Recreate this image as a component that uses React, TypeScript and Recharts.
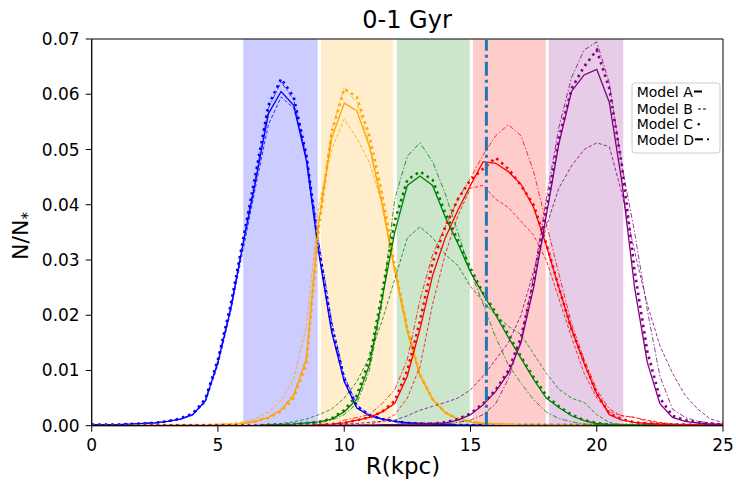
import React from 'react';
// npm
import { LineChart, Line, XAxis, YAxis, ReferenceArea, ReferenceLine } from 'recharts';

// radius grid (kpc)
const R = [
  0, 0.5, 1, 1.5, 2, 2.5, 3, 3.5, 4, 4.5, 5, 5.5, 6, 6.5, 7, 7.5, 8, 8.5, 9, 9.5, 10, 10.5, 11, 11.5, 12,
  12.5, 13, 13.5, 14, 14.5, 15, 15.5, 16, 16.5, 17, 17.5, 18, 18.5, 19, 19.5, 20, 20.5, 21, 21.5, 22, 22.5,
  23, 23.5, 24, 24.5, 25,
];

const xTicks = [0, 5, 10, 15, 20, 25];
const yTicks = [0, 0.01, 0.02, 0.03, 0.04, 0.05, 0.06, 0.07];

// birth radius bins shaded behind the curves
const bandEdges = [
  [6, 8.95],
  [9.08, 11.95],
  [12.08, 14.97],
  [15.1, 17.98],
  [18.1, 21.05],
];
const bandColors = ['#ccccff', '#ffedcc', '#cce6cc', '#ffcccc', '#e6cce6'];
const solarR = 15.63;

const blueA = [
  0.0002, 0.0002, 0.0002, 0.0003, 0.0004, 0.0005, 0.0008, 0.0012, 0.002, 0.0045, 0.0115, 0.021, 0.033, 0.0445,
  0.0565, 0.0605, 0.058, 0.048, 0.031, 0.017, 0.008, 0.0032, 0.0018, 0.0012, 0.0008, 0.0005, 0.0004, 0.0003,
  0.0002, 0.0001, 0.0001, 0.0001, 0.0001, 0.0001, 0.0001, 0.0001, 0.0001, 0.0001, 0.0001, 0.0001, 0.0001,
  0.0001, 0.0001, 0.0001, 0.0001, 0.0001, 0.0001, 0.0001, 0.0001, 0.0001, 0.0001,
];
const blueB = [
  0.0002, 0.0002, 0.0002, 0.0003, 0.0004, 0.0005, 0.0008, 0.0011, 0.0019, 0.0042, 0.011, 0.0205, 0.032, 0.0435,
  0.0545, 0.0595, 0.0575, 0.049, 0.033, 0.019, 0.009, 0.0038, 0.002, 0.0013, 0.0009, 0.0006, 0.0004, 0.0003,
  0.0002, 0.0001, 0.0001, 0.0001, 0.0001, 0.0001, 0.0001, 0.0001, 0.0001, 0.0001, 0.0001, 0.0001, 0.0001,
  0.0001, 0.0001, 0.0001, 0.0001, 0.0001, 0.0001, 0.0001, 0.0001, 0.0001, 0.0001,
];
const blueC = [
  0.0002, 0.0002, 0.0002, 0.0003, 0.0004, 0.0005, 0.0008, 0.0013, 0.0022, 0.0048, 0.012, 0.0218, 0.0338, 0.0458,
  0.058, 0.0628, 0.0595, 0.049, 0.032, 0.018, 0.0085, 0.0035, 0.0019, 0.0012, 0.0008, 0.0005, 0.0004, 0.0003,
  0.0002, 0.0001, 0.0001, 0.0001, 0.0001, 0.0001, 0.0001, 0.0001, 0.0001, 0.0001, 0.0001, 0.0001, 0.0001,
  0.0001, 0.0001, 0.0001, 0.0001, 0.0001, 0.0001, 0.0001, 0.0001, 0.0001, 0.0001,
];
const blueD = [
  0.0002, 0.0002, 0.0002, 0.0003, 0.0004, 0.0005, 0.0008, 0.0012, 0.0021, 0.0046, 0.0118, 0.0214, 0.0334, 0.0452,
  0.0575, 0.0622, 0.059, 0.0485, 0.0315, 0.0175, 0.0082, 0.0033, 0.0018, 0.0012, 0.0008, 0.0005, 0.0004, 0.0003,
  0.0002, 0.0001, 0.0001, 0.0001, 0.0001, 0.0001, 0.0001, 0.0001, 0.0001, 0.0001, 0.0001, 0.0001, 0.0001,
  0.0001, 0.0001, 0.0001, 0.0001, 0.0001, 0.0001, 0.0001, 0.0001, 0.0001, 0.0001,
];

const orangeA = [
  0, 0, 0, 0, 0.0001, 0.0001, 0.0001, 0.0001, 0.0001, 0.0001, 0.0002, 0.0002, 0.0004, 0.0008, 0.0015, 0.0028,
  0.0055, 0.012, 0.037, 0.052, 0.0584, 0.057, 0.0505, 0.04, 0.028, 0.017, 0.009, 0.0047, 0.0023, 0.0012, 0.0007,
  0.0004, 0.0003, 0.0002, 0.0001, 0.0001, 0.0001, 0.0001, 0.0001, 0.0001, 0.0001, 0.0001, 0.0001, 0.0001,
  0.0001, 0.0001, 0.0001, 0.0001, 0.0001, 0.0001, 0.0001,
];
const orangeB = [
  0, 0, 0, 0, 0.0001, 0.0001, 0.0001, 0.0002, 0.0002, 0.0002, 0.0003, 0.0004, 0.0007, 0.0013, 0.0025, 0.0045,
  0.0085, 0.018, 0.04, 0.05, 0.0555, 0.052, 0.0476, 0.04, 0.029, 0.018, 0.0095, 0.005, 0.0025, 0.0013, 0.0008,
  0.0005, 0.0003, 0.0002, 0.0001, 0.0001, 0.0001, 0.0001, 0.0001, 0.0001, 0.0001, 0.0001, 0.0001, 0.0001,
  0.0001, 0.0001, 0.0001, 0.0001, 0.0001, 0.0001, 0.0001,
];
const orangeC = [
  0, 0, 0, 0, 0.0001, 0.0001, 0.0001, 0.0001, 0.0001, 0.0001, 0.0002, 0.0002, 0.0004, 0.0008, 0.0014, 0.0026,
  0.005, 0.011, 0.036, 0.053, 0.061, 0.0595, 0.0524, 0.042, 0.029, 0.0175, 0.0092, 0.0048, 0.0024, 0.0012,
  0.0007, 0.0004, 0.0003, 0.0002, 0.0001, 0.0001, 0.0001, 0.0001, 0.0001, 0.0001, 0.0001, 0.0001, 0.0001,
  0.0001, 0.0001, 0.0001, 0.0001, 0.0001, 0.0001, 0.0001, 0.0001,
];
const orangeD = [
  0, 0, 0, 0, 0.0001, 0.0001, 0.0001, 0.0001, 0.0001, 0.0001, 0.0002, 0.0002, 0.0004, 0.0009, 0.0016, 0.003,
  0.0058, 0.0125, 0.038, 0.0535, 0.0612, 0.0585, 0.051, 0.041, 0.0285, 0.0172, 0.0091, 0.0048, 0.0023, 0.0012,
  0.0007, 0.0004, 0.0003, 0.0002, 0.0001, 0.0001, 0.0001, 0.0001, 0.0001, 0.0001, 0.0001, 0.0001, 0.0001,
  0.0001, 0.0001, 0.0001, 0.0001, 0.0001, 0.0001, 0.0001, 0.0001,
];

const greenA = [
  0, 0, 0, 0, 0, 0, 0, 0, 0, 0, 0, 0, 0, 0, 0.0002, 0.0002, 0.0003, 0.0005, 0.0007, 0.0012, 0.0025, 0.0048,
  0.011, 0.023, 0.035, 0.0435, 0.0452, 0.0435, 0.0378, 0.033, 0.0278, 0.0238, 0.02, 0.016, 0.0122, 0.0084,
  0.005, 0.0033, 0.0018, 0.0009, 0.0004, 0.0002, 0.0001, 0.0001, 0.0001, 0.0001, 0.0001, 0.0001, 0.0001,
  0.0001, 0.0001,
];
const greenB = [
  0, 0, 0, 0, 0, 0, 0, 0, 0, 0, 0, 0, 0, 0, 0.0002, 0.0004, 0.0007, 0.0012, 0.002, 0.003, 0.005, 0.008, 0.0125,
  0.019, 0.0265, 0.034, 0.036, 0.034, 0.031, 0.029, 0.0252, 0.0225, 0.02, 0.018, 0.0165, 0.013, 0.0095, 0.0066,
  0.005, 0.0042, 0.002, 0.0006, 0.0001, 0.0001, 0.0001, 0.0001, 0.0001, 0.0001, 0.0001, 0.0001, 0.0001,
];
const greenC = [
  0, 0, 0, 0, 0, 0, 0, 0, 0, 0, 0, 0, 0, 0, 0.0002, 0.0002, 0.0003, 0.0005, 0.0007, 0.0013, 0.0028, 0.0055,
  0.012, 0.024, 0.037, 0.0445, 0.046, 0.0445, 0.0385, 0.0335, 0.0285, 0.024, 0.0205, 0.0165, 0.0125, 0.0088,
  0.0055, 0.0035, 0.002, 0.001, 0.0005, 0.0002, 0.0001, 0.0001, 0.0001, 0.0001, 0.0001, 0.0001, 0.0001, 0.0001,
  0.0001,
];
const greenD = [
  0, 0, 0, 0, 0, 0, 0, 0, 0, 0, 0, 0, 0, 0, 0.0001, 0.0001, 0.0002, 0.0003, 0.0005, 0.001, 0.002, 0.004, 0.01,
  0.022, 0.041, 0.0488, 0.0512, 0.0478, 0.042, 0.035, 0.028, 0.022, 0.016, 0.011, 0.0077, 0.0047, 0.0025,
  0.0013, 0.0007, 0.0003, 0.0002, 0.0001, 0.0001, 0.0001, 0.0001, 0.0001, 0.0001, 0.0001, 0.0001, 0.0001,
  0.0001,
];

const redA = [
  0, 0, 0, 0, 0, 0, 0, 0, 0, 0, 0, 0, 0, 0, 0, 0, 0, 0, 0.0002, 0.0003, 0.0005, 0.001, 0.0015, 0.0025, 0.004,
  0.009, 0.0175, 0.0272, 0.034, 0.039, 0.0435, 0.0478, 0.0475, 0.046, 0.0437, 0.0395, 0.0327, 0.025, 0.0175,
  0.0113, 0.0058, 0.002, 0.001, 0.0006, 0.0004, 0.0003, 0.0002, 0.0002, 0.0001, 0.0001, 0.0001,
];
const redB = [
  0, 0, 0, 0, 0, 0, 0, 0, 0, 0, 0, 0, 0, 0, 0, 0, 0, 0, 0, 0, 0, 0, 0.0003, 0.0008, 0.002, 0.005, 0.0107,
  0.022, 0.031, 0.038, 0.043, 0.0435, 0.041, 0.0395, 0.037, 0.0345, 0.03, 0.023, 0.016, 0.0095, 0.005, 0.0025,
  0.0018, 0.0015, 0.001, 0.0006, 0.0003, 0.0002, 0.0001, 0.0001, 0.0001,
];
const redC = [
  0, 0, 0, 0, 0, 0, 0, 0, 0, 0, 0, 0, 0, 0, 0, 0, 0, 0, 0.0002, 0.0003, 0.0005, 0.001, 0.0015, 0.0025, 0.0045,
  0.01, 0.019, 0.0295, 0.036, 0.041, 0.0445, 0.0465, 0.0485, 0.0465, 0.0435, 0.04, 0.033, 0.025, 0.0175,
  0.0115, 0.0058, 0.0022, 0.0012, 0.0006, 0.0004, 0.0003, 0.0002, 0.0002, 0.0001, 0.0001, 0.0001,
];
const redD = [
  0, 0, 0, 0, 0, 0, 0, 0, 0, 0, 0, 0, 0, 0, 0, 0, 0, 0, 0, 0, 0.001, 0.0015, 0.002, 0.004, 0.0065, 0.012,
  0.0228, 0.031, 0.036, 0.041, 0.0448, 0.049, 0.0525, 0.0545, 0.0525, 0.046, 0.0367, 0.0275, 0.0185, 0.012,
  0.0065, 0.003, 0.0018, 0.0015, 0.0008, 0.0005, 0.0003, 0.0002, 0.0002, 0.0001, 0.0001,
];

const purpleA = [
  0, 0, 0, 0, 0, 0, 0, 0, 0, 0, 0, 0, 0, 0, 0, 0, 0, 0, 0, 0, 0.0001, 0.0001, 0.0001, 0.0002, 0.0002, 0.0003,
  0.0003, 0.0004, 0.0005, 0.001, 0.002, 0.0038, 0.0062, 0.0095, 0.015, 0.025, 0.038, 0.051, 0.0605, 0.0635,
  0.0645, 0.0585, 0.044, 0.025, 0.0115, 0.004, 0.0015, 0.0008, 0.0005, 0.0003, 0.0002,
];
const purpleB = [
  0, 0, 0, 0, 0, 0, 0, 0, 0, 0, 0, 0, 0, 0, 0, 0, 0, 0, 0, 0, 0.0003, 0.0004, 0.0006, 0.0008, 0.001, 0.0018,
  0.0028, 0.0035, 0.0042, 0.005, 0.0065, 0.009, 0.012, 0.015, 0.02, 0.028, 0.036, 0.043, 0.047, 0.05, 0.0512,
  0.0505, 0.042, 0.0315, 0.022, 0.0145, 0.0095, 0.0055, 0.003, 0.0012, 0.0006,
];
const purpleC = [
  0, 0, 0, 0, 0, 0, 0, 0, 0, 0, 0, 0, 0, 0, 0, 0, 0, 0, 0, 0, 0, 0, 0, 0, 0.0001, 0.0002, 0.0003, 0.0004,
  0.0006, 0.0012, 0.0022, 0.004, 0.0065, 0.01, 0.016, 0.026, 0.039, 0.052, 0.061, 0.065, 0.068, 0.061, 0.047,
  0.028, 0.0135, 0.005, 0.0018, 0.001, 0.0006, 0.0004, 0.0002,
];
const purpleD = [
  0, 0, 0, 0, 0, 0, 0, 0, 0, 0, 0, 0, 0, 0, 0, 0, 0, 0, 0, 0, 0, 0, 0, 0, 0.0001, 0.0001, 0.0002, 0.0002,
  0.0003, 0.0006, 0.001, 0.002, 0.004, 0.0085, 0.0155, 0.027, 0.041, 0.054, 0.063, 0.068, 0.0695, 0.062, 0.047,
  0.035, 0.021, 0.009, 0.003, 0.0015, 0.0008, 0.0005, 0.0003,
];

const modelStyle: Record<string, { strokeWidth: number; strokeDasharray?: string }> = {
  A: { strokeWidth: 1.3 },
  B: { strokeWidth: 0.8, strokeDasharray: '3.5 2' },
  C: { strokeWidth: 2.6, strokeDasharray: '2.5 4' },
  D: { strokeWidth: 0.8, strokeDasharray: '5 2 1.5 2' },
};

const series = [
  { key: 'blueA', color: '#0000ff', model: 'A', values: blueA },
  { key: 'blueB', color: '#0000ff', model: 'B', values: blueB },
  { key: 'blueC', color: '#0000ff', model: 'C', values: blueC },
  { key: 'blueD', color: '#0000ff', model: 'D', values: blueD },
  { key: 'orangeA', color: '#ffa500', model: 'A', values: orangeA },
  { key: 'orangeB', color: '#ffa500', model: 'B', values: orangeB },
  { key: 'orangeC', color: '#ffa500', model: 'C', values: orangeC },
  { key: 'orangeD', color: '#ffa500', model: 'D', values: orangeD },
  { key: 'greenA', color: '#008000', model: 'A', values: greenA },
  { key: 'greenB', color: '#008000', model: 'B', values: greenB },
  { key: 'greenC', color: '#008000', model: 'C', values: greenC },
  { key: 'greenD', color: '#008000', model: 'D', values: greenD },
  { key: 'redA', color: '#ff0000', model: 'A', values: redA },
  { key: 'redB', color: '#ff0000', model: 'B', values: redB },
  { key: 'redC', color: '#ff0000', model: 'C', values: redC },
  { key: 'redD', color: '#ff0000', model: 'D', values: redD },
  { key: 'purpleA', color: '#800080', model: 'A', values: purpleA },
  { key: 'purpleB', color: '#800080', model: 'B', values: purpleB },
  { key: 'purpleC', color: '#800080', model: 'C', values: purpleC },
  { key: 'purpleD', color: '#800080', model: 'D', values: purpleD },
];

const rows = R.map((r, i) => {
  const row: Record<string, number> = { r };
  series.forEach((s) => {
    row[s.key] = s.values[i];
  });
  return row;
});

const FONT = 'DejaVu Sans, sans-serif';
const tickStyle = { fill: '#000', fontSize: 17, fontFamily: FONT };

const App = () => {
  return (
    <div style={{ position: 'absolute', left: 0, top: 0, width: 736, height: 487, fontFamily: FONT }}>
      <LineChart width={736} height={487} data={rows} margin={{ top: 39, right: 13, left: 0, bottom: 0 }}>
        {bandEdges.map(([a, b], i) => (
          <ReferenceArea
            key={'band' + i}
            x1={a}
            x2={b}
            y1={0}
            y2={0.07}
            fill={bandColors[i]}
            fillOpacity={1}
            stroke="none"
          />
        ))}
        <XAxis
          dataKey="r"
          type="number"
          domain={[0, 25]}
          ticks={xTicks}
          height={61.3}
          tick={tickStyle}
          tickSize={6}
          tickMargin={7}
          stroke="#000"
          interval={0}
          allowDataOverflow
        />
        <YAxis
          type="number"
          domain={[0, 0.07]}
          ticks={yTicks}
          width={91.7}
          tick={tickStyle}
          tickSize={6}
          tickMargin={6}
          stroke="#000"
          interval={0}
          tickFormatter={(v: number) => v.toFixed(2)}
          allowDataOverflow
        />
        {series.map((s) => (
          <Line
            key={s.key}
            type="linear"
            dataKey={s.key}
            stroke={s.color}
            dot={false}
            activeDot={false}
            isAnimationActive={false}
            {...modelStyle[s.model]}
          />
        ))}
        <ReferenceLine x={solarR} stroke="#1f77b4" strokeWidth={3} strokeDasharray="14 4 3 4" />
        <ReferenceArea x1={0} x2={25} y1={0} y2={0.07} fill="none" fillOpacity={0} stroke="#000" strokeWidth={1} />
      </LineChart>
      <svg
        width={736}
        height={487}
        style={{ position: 'absolute', left: 0, top: 0, pointerEvents: 'none' }}
        fontFamily={FONT}
      >
        <text x={407} y={28} textAnchor="middle" fontSize={24} fill="#000">
          0-1 Gyr
        </text>
        <text x={403} y={474} textAnchor="middle" fontSize={23} fill="#000">
          R(kpc)
        </text>
        <text transform="translate(28,236) rotate(-90)" textAnchor="middle" fontSize={22} fill="#000">
          N/N
          <tspan fontSize={15} dy={5}>
            *
          </tspan>
        </text>
        <rect x={632} y={83} width={88} height={70} rx={3} fill="#fff" fillOpacity={0.8} stroke="#cccccc" />
        <text x={636.7} y={96.7} fontSize={14} fill="#000">
          Model A
        </text>
        <line x1={694} x2={702} y1={91.5} y2={91.5} stroke="#000" strokeWidth={2} />
        <text x={636.7} y={114} fontSize={14} fill="#000">
          Model B
        </text>
        <line x1={698} x2={707} y1={109} y2={109} stroke="#000" strokeWidth={1} strokeDasharray="3 2" />
        <text x={636.7} y={129} fontSize={14} fill="#000">
          Model C
        </text>
        <circle cx={698.7} cy={124.3} r={1.2} fill="#000" />
        <text x={636.7} y={145} fontSize={14} fill="#000">
          Model D
        </text>
        <line x1={695} x2={703} y1={139.3} y2={139.3} stroke="#000" strokeWidth={2} />
        <circle cx={708} cy={139.3} r={1.1} fill="#000" />
      </svg>
    </div>
  );
};

export default App;
